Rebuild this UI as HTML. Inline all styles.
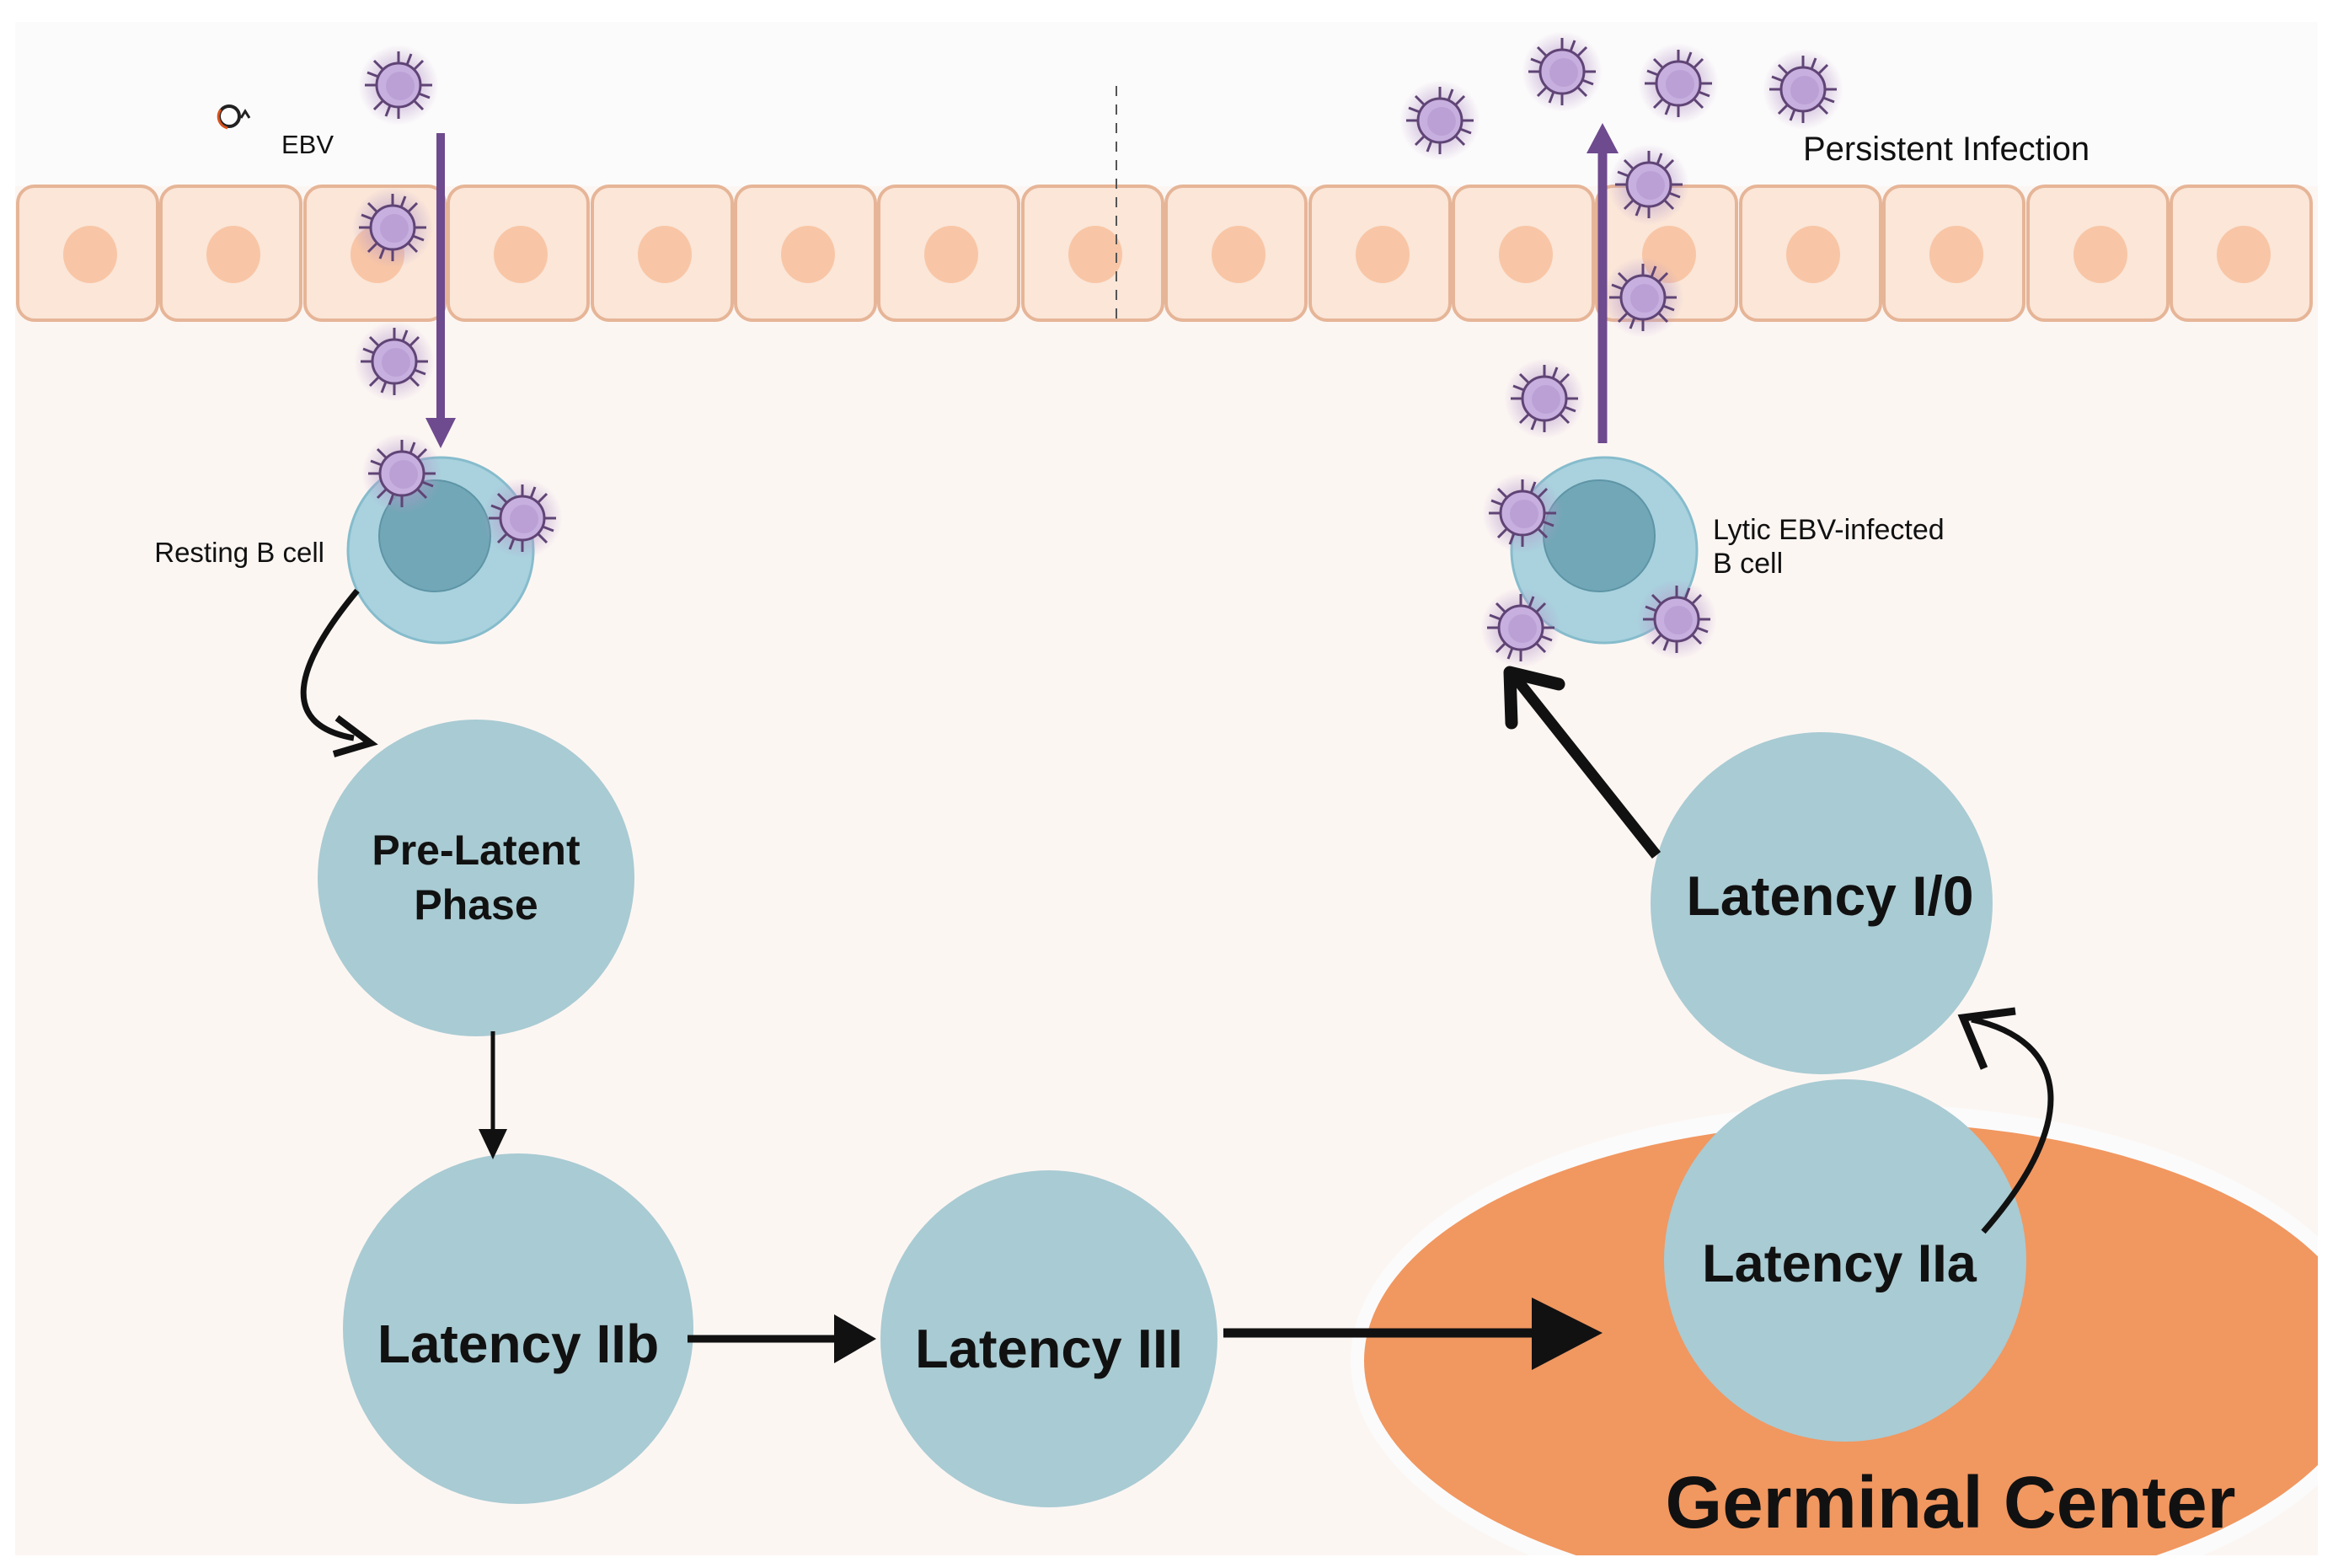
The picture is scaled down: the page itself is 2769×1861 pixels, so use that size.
<!DOCTYPE html>
<html><head><meta charset="utf-8"><style>
html,body{margin:0;padding:0;background:#fff}
svg{display:block}
text{font-family:"Liberation Sans","DejaVu Sans",sans-serif}
.b{font-weight:bold;fill:#111}
</style></head><body>
<svg width="2769" height="1861" viewBox="0 0 2769 1861" xmlns="http://www.w3.org/2000/svg">
<defs>
<radialGradient id="glow"><stop offset="0.55" stop-color="#b79acb" stop-opacity="0.45"/><stop offset="1" stop-color="#b79acb" stop-opacity="0"/></radialGradient>
<g id="v">
<circle r="48" fill="url(#glow)"/>
<g stroke="#5f4475" stroke-width="3">
<line x1="0" y1="-26" x2="0" y2="-40"/><line x1="0" y1="26" x2="0" y2="40"/>
<line x1="-26" y1="0" x2="-40" y2="0"/><line x1="26" y1="0" x2="40" y2="0"/>
<line x1="18" y1="18" x2="29" y2="29"/><line x1="-18" y1="18" x2="-29" y2="29"/>
<line x1="18" y1="-18" x2="29" y2="-29"/><line x1="-18" y1="-18" x2="-29" y2="-29"/>
<line x1="10" y1="-24" x2="15" y2="-37"/><line x1="-10" y1="24" x2="-15" y2="37"/>
<line x1="24" y1="10" x2="37" y2="15"/><line x1="-24" y1="-10" x2="-37" y2="-15"/>
</g>
<circle r="26" fill="#c7b0df" stroke="#5f4475" stroke-width="3"/>
<circle r="17" cx="2" cy="1" fill="#bba0d6"/>
</g>
<g id="c">
<rect x="0" y="0" width="166" height="159" rx="20" fill="#fbe6d8" stroke="#e6b597" stroke-width="4"/>
<ellipse cx="86" cy="81" rx="32" ry="34" fill="#f8c6a6"/>
</g>
</defs>
<rect width="2769" height="1861" fill="#fff"/>
<rect x="18" y="26" width="2733" height="1820" fill="#fcf6f3"/>
<rect x="18" y="26" width="2733" height="195" fill="#fcfbfb"/>
<!-- cells -->
<use href="#c" x="21" y="221"/><use href="#c" x="191" y="221"/><use href="#c" x="362" y="221"/>
<use href="#c" x="532" y="221"/><use href="#c" x="703" y="221"/><use href="#c" x="873" y="221"/>
<use href="#c" x="1043" y="221"/><use href="#c" x="1214" y="221"/><use href="#c" x="1384" y="221"/>
<use href="#c" x="1555" y="221"/><use href="#c" x="1725" y="221"/><use href="#c" x="1895" y="221"/>
<use href="#c" x="2066" y="221"/><use href="#c" x="2236" y="221"/><use href="#c" x="2407" y="221"/>
<use href="#c" x="2577" y="221"/>
<line x1="1325" y1="102" x2="1325" y2="380" stroke="#555" stroke-width="2" stroke-dasharray="12,10"/>
<!-- EBV icon & label -->
<circle cx="272" cy="138" r="12" fill="none" stroke="#222" stroke-width="4"/>
<path d="M262 130 A14 14 0 0 0 270 152" fill="none" stroke="#d9531e" stroke-width="3"/>
<path d="M286 140 l5 -8 l5 8" fill="none" stroke="#222" stroke-width="3"/>
<text x="334" y="182" font-size="31" fill="#111">EBV</text>
<text x="2140" y="190" font-size="40" fill="#111">Persistent Infection</text>
<!-- germinal center -->
<clipPath id="fr"><rect x="18" y="26" width="2733" height="1820"/></clipPath>
<g clip-path="url(#fr)">
<ellipse cx="2215" cy="1615" rx="612" ry="305" fill="#fbfbfb"/>
<ellipse cx="2215" cy="1615" rx="596" ry="283" fill="#f19760"/>
</g>
<rect x="0" y="1846" width="2769" height="15" fill="#fff"/>
<!-- B cells -->
<circle cx="523" cy="653" r="110" fill="#a9d2de" stroke="#86bccc" stroke-width="3"/>
<circle cx="516" cy="636" r="66" fill="#72a7b7" stroke="#5e95a6" stroke-width="2"/>
<circle cx="1904" cy="653" r="110" fill="#a9d2de" stroke="#86bccc" stroke-width="3"/>
<circle cx="1898" cy="636" r="66" fill="#72a7b7" stroke="#5e95a6" stroke-width="2"/>
<text x="385" y="667" font-size="33" fill="#111" text-anchor="end">Resting B cell</text>
<text x="2033" y="640" font-size="34" fill="#111">Lytic EBV-infected</text>
<text x="2033" y="680" font-size="34" fill="#111">B cell</text>
<!-- viruses -->
<use href="#v" x="473" y="101"/><use href="#v" x="466" y="270"/><use href="#v" x="468" y="429"/>
<use href="#v" x="477" y="562"/><use href="#v" x="620" y="615"/>
<use href="#v" x="1709" y="143"/><use href="#v" x="1854" y="85"/><use href="#v" x="1992" y="99"/>
<use href="#v" x="2140" y="106"/><use href="#v" x="1957" y="219"/><use href="#v" x="1950" y="353"/>
<use href="#v" x="1833" y="473"/><use href="#v" x="1807" y="609"/><use href="#v" x="1805" y="745"/>
<use href="#v" x="1990" y="735"/>
<!-- purple arrows -->
<line x1="523" y1="158" x2="523" y2="500" stroke="#6e4a8e" stroke-width="10"/>
<polygon points="505,496 541,496 523,532" fill="#6e4a8e"/>
<line x1="1902" y1="526" x2="1902" y2="178" stroke="#6e4a8e" stroke-width="11"/>
<polygon points="1883,182 1921,182 1902,146" fill="#6e4a8e"/>
<!-- phase circles -->
<g fill="#a9cbd3">
<circle cx="565" cy="1042" r="188"/>
<circle cx="615" cy="1577" r="208"/>
<circle cx="1245" cy="1589" r="200"/>
<circle cx="2190" cy="1496" r="215"/>
<circle cx="2162" cy="1072" r="203"/>
</g>
<text class="b" x="565" y="1026" font-size="50" text-anchor="middle">Pre-Latent</text>
<text class="b" x="565" y="1091" font-size="50" text-anchor="middle">Phase</text>
<text class="b" x="615" y="1617" font-size="64" text-anchor="middle">Latency IIb</text>
<text class="b" x="1245" y="1623" font-size="65" text-anchor="middle">Latency III</text>
<text class="b" x="2183" y="1521" font-size="63" text-anchor="middle">Latency IIa</text>
<text class="b" x="2172" y="1086" font-size="66" text-anchor="middle">Latency I/0</text>
<text class="b" x="2315" y="1813" font-size="87" text-anchor="middle">Germinal Center</text>
<!-- black arrows -->
<path d="M424 701 C 350 790, 330 860, 420 876" fill="none" stroke="#111" stroke-width="7"/>
<path d="M400 852 L440 882 L396 895" fill="none" stroke="#111" stroke-width="8" stroke-linejoin="miter"/>
<line x1="585" y1="1224" x2="585" y2="1345" stroke="#111" stroke-width="5"/>
<polygon points="568,1340 602,1340 585,1376" fill="#111"/>
<line x1="816" y1="1589" x2="1000" y2="1589" stroke="#111" stroke-width="9"/>
<polygon points="990,1560 1040,1589 990,1618" fill="#111"/>
<line x1="1452" y1="1582" x2="1850" y2="1582" stroke="#111" stroke-width="11"/>
<polygon points="1818,1540 1902,1582 1818,1626" fill="#111"/>
<path d="M2354 1462 C 2470 1330, 2455 1235, 2340 1210" fill="none" stroke="#111" stroke-width="7"/>
<path d="M2355 1268 L2330 1208 L2392 1200" fill="none" stroke="#111" stroke-width="9"/>
<line x1="1966" y1="1015" x2="1800" y2="806" stroke="#111" stroke-width="13"/>
<path d="M1794 858 L1792 798 L1850 812" fill="none" stroke="#111" stroke-width="15" stroke-linecap="round" stroke-linejoin="round"/>
</svg>
</body></html>
